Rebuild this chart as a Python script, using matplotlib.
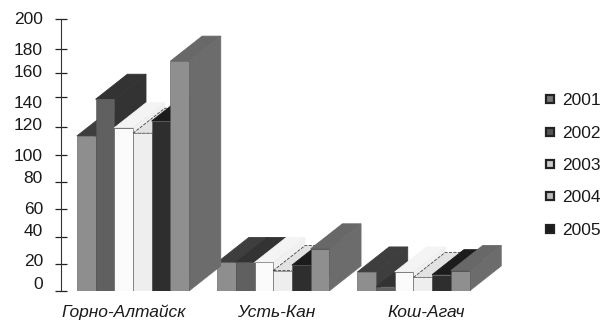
import matplotlib
matplotlib.use('Agg')
import matplotlib.pyplot as plt
from matplotlib.patches import Polygon
from matplotlib.lines import Line2D

plt.rcParams['font.family'] = ['Liberation Sans', 'DejaVu Sans']

towns = ['Горно-Алтайск', 'Усть-Кан', 'Кош-Агач']
town_label_x = [-0.48, 7.65, 15.67]
years = ['2001', '2002', '2003', '2004', '2005']

# по городам, шесть столбцов в каждой группе
s2001 = [114, 21, 14]
s2002 = [141, 21, 3]
s2003 = [120, 21, 14]
s2004 = [116, 15, 10]
s2005 = [125, 19, 12]
s_extra = [169, 31, 15]
series = [s2001, s2002, s2003, s2004, s2005, s_extra]

ticks = [0, 20, 40, 60, 80, 100, 120.5, 143, 160.5, 178, 200]
tick_text = ['0', '20', '40', '60', '80', '100', '120', '140', '160', '180', '200']
tick_text_y = [5, 22, 44, 60, 83, 99, 122, 138, 161, 177, 200]

front = ['#8e8e8e', '#606060', '#fbfbfb', '#eeeeee', '#2e2e2e', '#8f8f8f']
top = ['#3e3e3e', '#333333', '#f4f4f4', '#e2e2e2', '#1c1c1c', '#686868']
side = ['#3e3e3e', '#333333', '#f0f0f0', '#d8d8d8', '#1c1c1c', '#6c6c6c']
legend_face = ['#777777', '#555555', '#cccccc', '#bbbbbb', '#1c1c1c']

group_x = [0, 7.5, 15]
dx = 1.7
dy = 18.4

fig = plt.figure(figsize=(6.04, 3.22), dpi=100)
ax = fig.add_axes([60.5 / 604, 31 / 322, (604 - 60.5) / 604, 272 / 322])
ax.set_xlim(-3.877, 25.19)
ax.set_ylim(0, 200)

for i, vals in enumerate(series):
    for g, v in zip(group_x, vals):
        x0 = g + i - 3
        z = 2 + i
        # верх и боковая грань
        ax.add_patch(Polygon([(x0, v), (x0 + dx, v + dy), (x0 + 1 + dx, v + dy), (x0 + 1, v)],
                             fc=top[i], ec='#444444' if i == 3 else top[i], lw=0.6,
                             ls='--' if i == 3 else '-', zorder=z))
        ax.add_patch(Polygon([(x0 + 1, 0), (x0 + 1 + dx, dy), (x0 + 1 + dx, v + dy), (x0 + 1, v)],
                             fc=side[i], ec=side[i], lw=0.4, zorder=z))
        ax.bar(x0 + 0.5, v, width=1, color=front[i], edgecolor='#555555', linewidth=0.4, zorder=z + 0.5)

for s in ['top', 'right', 'bottom']:
    ax.spines[s].set_visible(False)
ax.spines['left'].set_color('#333333')

ax.set_yticks(ticks)
ax.set_yticklabels([])
ax.tick_params(axis='y', direction='inout', length=9, width=0.9, color='#222222')
for t, y in zip(tick_text, tick_text_y):
    ax.annotate(t, (0, y), xycoords=('axes fraction', 'data'), xytext=(-12.6, 0),
                textcoords='offset points', ha='right', va='center', fontsize=12.5, color='#1a1a1a')

ax.set_xticks(town_label_x)
ax.set_xticklabels(towns, style='italic', fontsize=12.5, color='#1a1a1a')
ax.tick_params(axis='x', length=0, pad=10)

handles = [Line2D([], [], ls='none', marker='s', ms=5.5, mfc=c, mec='#222222', mew=1.6) for c in legend_face]
ax.legend(handles, years, loc='upper left', bbox_to_anchor=(0.884, 0.727), frameon=False,
          fontsize=12.5, labelspacing=0.99, handlelength=1, handletextpad=0.22, labelcolor='#1a1a1a',
          borderpad=0, borderaxespad=0)

fig.savefig('out.png', dpi=100)
